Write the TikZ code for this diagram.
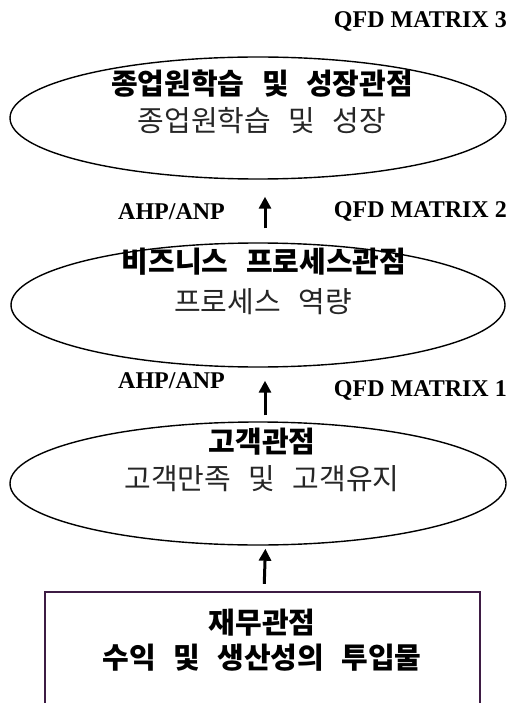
\documentclass[tikz,border=0pt]{standalone}
\usepackage{fontspec}
\setmainfont{Liberation Serif}
\newfontfamily\kr{Noto Sans CJK KR}
\usetikzlibrary{shapes.geometric,arrows.meta,calc}
\newcommand{\ksp}{\hspace{0.6em}}
\begin{document}
\begin{tikzpicture}[x=1pt,y=-1pt,
  oval/.style={draw,ellipse,line width=1.4pt,inner sep=0pt},
  head/.style={font=\kr\bfseries\fontsize{29}{31}\selectfont,inner sep=0pt},
  body/.style={font=\kr\fontsize{29}{31}\selectfont,inner sep=0pt,text=black!85},
  tag/.style={font=\bfseries\fontsize{24}{26}\selectfont,inner sep=0pt},
  uparrow/.style={line width=3pt,-{Triangle[length=12pt,width=12pt]}}]
\useasboundingbox (0,0) rectangle (512,703);

% three perspective ellipses
\node[oval,minimum width=496pt,minimum height=122pt] (e1) at (258,118) {};
\node[oval,minimum width=494pt,minimum height=124pt] (e2) at (258,305) {};
\node[oval,minimum width=496pt,minimum height=123pt] (e3) at (258,483.5) {};

% financial box, open at the lower edge
\node[minimum width=435pt,minimum height=130pt,inner sep=0pt] (box) at (262.5,657) {};
\draw[line width=1.6pt,color={rgb,255:red,62;green,28;blue,68}]
  (box.south west) -- (box.north west) -- (box.north east) -- (box.south east);

% texts inside the shapes
\node[head] (h1) at (262,84) {종업원학습\ksp 및\ksp 성장관점};
\node[body] (b1) at (262,121) {종업원학습\ksp 및\ksp 성장};
\node[head] (h2) at (264,262) {비즈니스\ksp 프로세스관점};
\node[body] (b2) at (263,302) {프로세스\ksp 역량};
\node[head] (h3) at (262,442) {고객관점};
\node[body] (b3) at (262,479) {고객만족\ksp 및\ksp 고객유지};
\node[head] (h4) at (262,623) {재무관점};
\node[head] (h5) at (262,658) {수익\ksp 및\ksp 생산성의\ksp 투입물};

% side labels
\node[tag,anchor=east] (q3) at (507,22) {QFD MATRIX 3};
\node[tag,anchor=east] (q2) at (507,212) {QFD MATRIX 2};
\node[tag,anchor=east] (q1) at (507,390) {QFD MATRIX 1};
\node[tag,anchor=west] (a2) at (118,212) {AHP/ANP};
\node[tag,anchor=west] (a1) at (118,381) {AHP/ANP};

% upward arrows between the stages
\draw[uparrow,shorten <=14pt,shorten >=17pt] ($(e2.north)+(7,0)$) -- ($(e1.south)+(7,0)$);
\draw[uparrow,shorten <=6pt,shorten >=13pt] ($(e3.north)+(7,0)$) -- ($(e2.south)+(7,0)$);
\draw[uparrow,shorten <=8pt,shorten >=3pt] ($(box.north)+(1.5,0)$) -- ($(e3.south)+(7.5,0)$);
\end{tikzpicture}
\end{document}
